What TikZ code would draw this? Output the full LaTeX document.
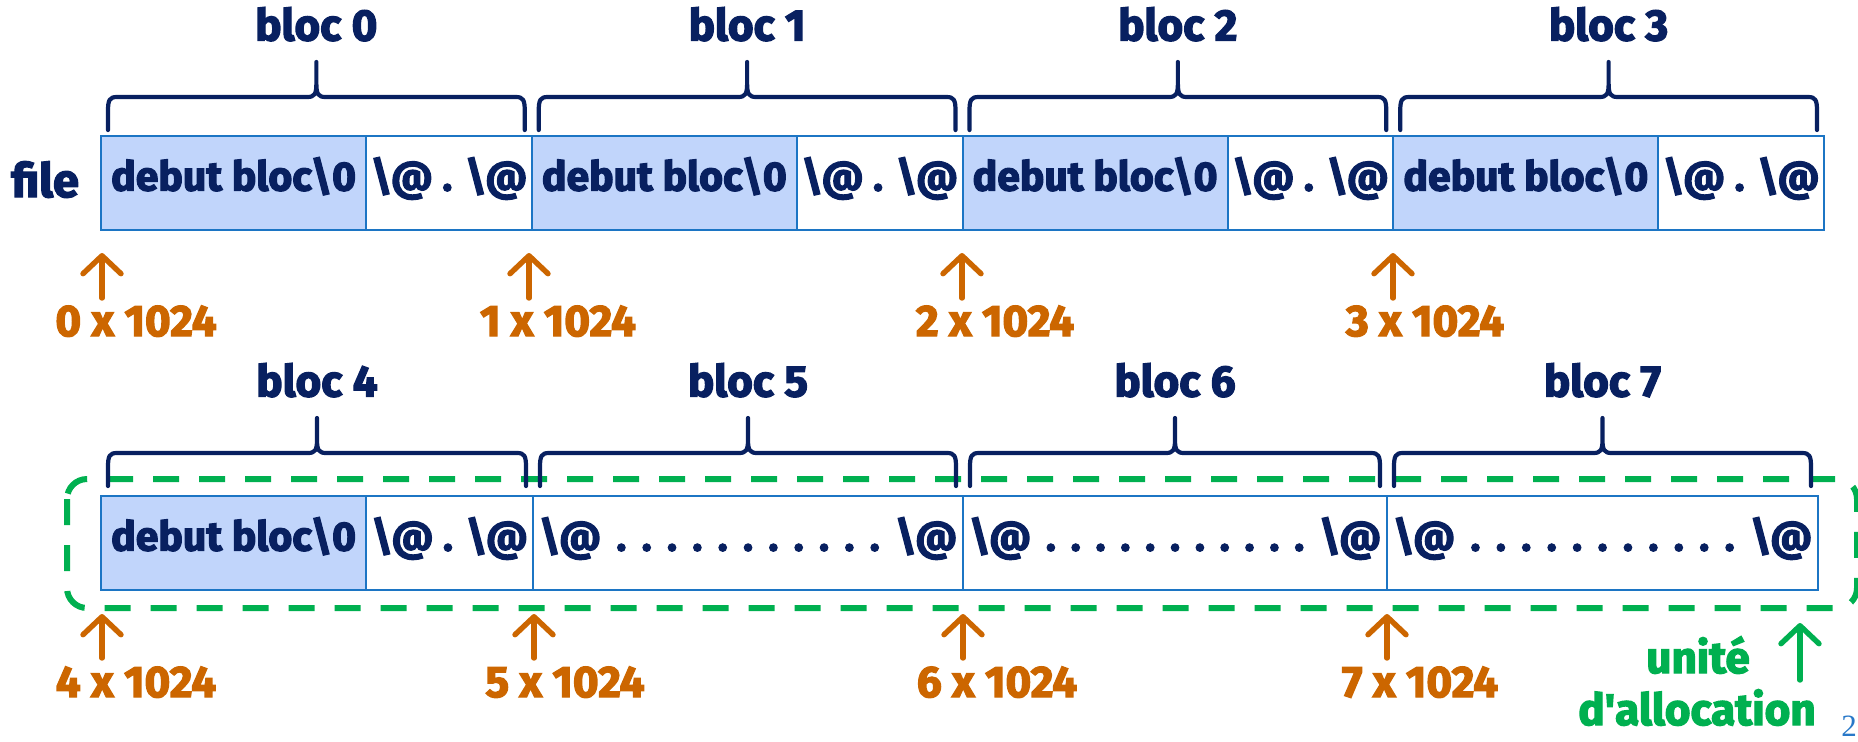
\documentclass[tikz,border=0pt]{standalone}
\usepackage{fontspec}
\setmainfont{Fira Sans}[BoldFeatures={FakeBold=3}]
\newfontfamily\pnfont{Liberation Serif}
\usetikzlibrary{arrows.meta}
\definecolor{navy}{RGB}{8,32,96}
\definecolor{cellfill}{RGB}{193,213,251}
\definecolor{cellline}{RGB}{28,117,196}
\definecolor{orng}{RGB}{204,102,0}
\definecolor{grn}{RGB}{0,176,80}
\definecolor{pnblue}{RGB}{40,120,200}
\tikzset{
  cell/.style={draw=cellline, line width=1.1pt, inner sep=0pt, minimum height=47pt,
    anchor=north west, text=navy, text height=0.85em, text depth=0.1em,
    font=\bfseries\fontsize{20.5}{24}\selectfont},
  shaded/.style={cell, fill=cellfill},
  blank/.style={cell, fill=white},
  bloclabel/.style={text=navy, font=\bfseries\fontsize{22}{26}\selectfont, anchor=base, inner sep=0pt},
  offlabel/.style={text=orng, font=\bfseries\fontsize{22}{26}\selectfont, anchor=base, inner sep=0pt},
  alloclabel/.style={text=grn, font=\bfseries\fontsize{22}{26}\selectfont, anchor=base, inner sep=0pt},
  brace/.style={draw=navy, line width=2.1pt, line cap=round, line join=round},
  ptr/.style={draw=orng, line width=2.7pt, line cap=round, -{Straight Barb[length=9pt,width=19pt,round]}},
  gptr/.style={ptr, draw=grn},
  alloc/.style={draw=grn, line width=3pt, dash pattern=on 13pt off 10pt, rounded corners=10pt},
}
\newcommand\blocbrace[5]{%
  \pgfmathsetmacro\bxa{#1}\pgfmathsetmacro\bxb{#2}\pgfmathsetmacro\bxm{(#1+#2)/2}\pgfmathsetmacro\bry{#3}%
  \draw[brace] (\bxa,\bry+130) -- (\bxa,\bry+111) .. controls (\bxa,\bry+100) and (\bxa+1.5,\bry+97) .. (\bxa+9,\bry+97)
    -- (\bxm-9,\bry+97) .. controls (\bxm-2,\bry+97) and (\bxm,\bry+94) .. (\bxm,\bry+84) -- (\bxm,\bry+62)
    -- (\bxm,\bry+84) .. controls (\bxm,\bry+94) and (\bxm+2,\bry+97) .. (\bxm+9,\bry+97)
    -- (\bxb-9,\bry+97) .. controls (\bxb-1.5,\bry+97) and (\bxb,\bry+100) .. (\bxb,\bry+111) -- (\bxb,\bry+130);
  \node[bloclabel] (#4) at (\bxm,\bry+40.5) {#5};
}
\newcommand\dotrow[1]{\makebox[#1]{\textbackslash @\hfill.\hfill.\hfill.\hfill.\hfill.\hfill.\hfill.\hfill.\hfill.\hfill.\hfill.\hfill\textbackslash @}}
\begin{document}
\begin{tikzpicture}[x=0.5pt,y=-0.5pt]
\useasboundingbox (0,0) rectangle (1858,741);
% ---------- top row
\node[bloclabel, font=\bfseries\fontsize{23.5}{28}\selectfont] (file) at (45,197) {file};
\node[shaded, minimum width=132.5pt]  (t0a) at (100,135)     {debut bloc\textbackslash 0};
\node[blank,  minimum width=82.875pt] (t0b) at (365,135)     {\textbackslash @ . \textbackslash @};
\node[shaded, minimum width=132.5pt]  (t1a) at (530.75,135)  {debut bloc\textbackslash 0};
\node[blank,  minimum width=82.875pt] (t1b) at (795.75,135)  {\textbackslash @ . \textbackslash @};
\node[shaded, minimum width=132.5pt]  (t2a) at (961.5,135)   {debut bloc\textbackslash 0};
\node[blank,  minimum width=82.875pt] (t2b) at (1226.5,135)  {\textbackslash @ . \textbackslash @};
\node[shaded, minimum width=132.5pt]  (t3a) at (1392.25,135) {debut bloc\textbackslash 0};
\node[blank,  minimum width=82.875pt] (t3b) at (1657.25,135) {\textbackslash @ . \textbackslash @};
\blocbrace{108}{524.75}{0}{L0}{bloc 0}
\blocbrace{538.75}{955.5}{0}{L1}{bloc 1}
\blocbrace{969.5}{1386.25}{0}{L2}{bloc 2}
\blocbrace{1400.25}{1817}{0}{L3}{bloc 3}
\coordinate (a0s) at (102,298);  \coordinate (a0e) at (102,253);
\coordinate (a1s) at (529,298);  \coordinate (a1e) at (529,253);
\coordinate (a2s) at (962,298);  \coordinate (a2e) at (962,253);
\coordinate (a3s) at (1393,298); \coordinate (a3e) at (1393,253);
\foreach \i in {0,...,3} \draw[ptr] (a\i s) -- (a\i e);
\node[offlabel] (o0) at (136,336)  {0 x 1024};
\node[offlabel] (o1) at (558,336)  {1 x 1024};
\node[offlabel] (o2) at (995,336)  {2 x 1024};
\node[offlabel] (o3) at (1425,336) {3 x 1024};
% ---------- bottom row
\draw[alloc] (67,479) rectangle (1857,608);
\node[shaded, minimum width=132.5pt] (b4a) at (100,495)  {debut bloc\textbackslash 0};
\node[blank,  minimum width=83.5pt]  (b4b) at (365,495)  {\textbackslash @ . \textbackslash @};
\node[blank,  minimum width=215pt]   (b5)  at (532,495)  {\dotrow{209pt}};
\node[blank,  minimum width=212pt]   (b6)  at (962,495)  {\dotrow{206pt}};
\node[blank,  minimum width=215.5pt] (b7)  at (1386,495) {\dotrow{209.5pt}};
\blocbrace{108}{526}{356}{L4}{bloc 4}
\blocbrace{540}{956}{356}{L5}{bloc 5}
\blocbrace{970}{1380}{356}{L6}{bloc 6}
\blocbrace{1394}{1811}{356}{L7}{bloc 7}
\coordinate (a4s) at (102,658);  \coordinate (a4e) at (102,614);
\coordinate (a5s) at (534,658);  \coordinate (a5e) at (534,614);
\coordinate (a6s) at (963,658);  \coordinate (a6e) at (963,614);
\coordinate (a7s) at (1387,658); \coordinate (a7e) at (1387,614);
\foreach \i in {4,...,7} \draw[ptr] (a\i s) -- (a\i e);
\node[offlabel] (o4) at (136,697)  {4 x 1024};
\node[offlabel] (o5) at (565,697)  {5 x 1024};
\node[offlabel] (o6) at (997,697)  {6 x 1024};
\node[offlabel] (o7) at (1420,697) {7 x 1024};
\coordinate (us) at (1800,680); \coordinate (ue) at (1800,623);
\draw[gptr] (us) -- (ue);
\node[alloclabel] (u1) at (1698,673) {unité};
\node[alloclabel] (u2) at (1697,725) {d\textquotesingle allocation};
\node[text=pnblue, font=\pnfont\fontsize{15.5}{18}\selectfont, anchor=north west, inner sep=0pt] (pg) at (1841,716) {2};
\end{tikzpicture}
\end{document}
